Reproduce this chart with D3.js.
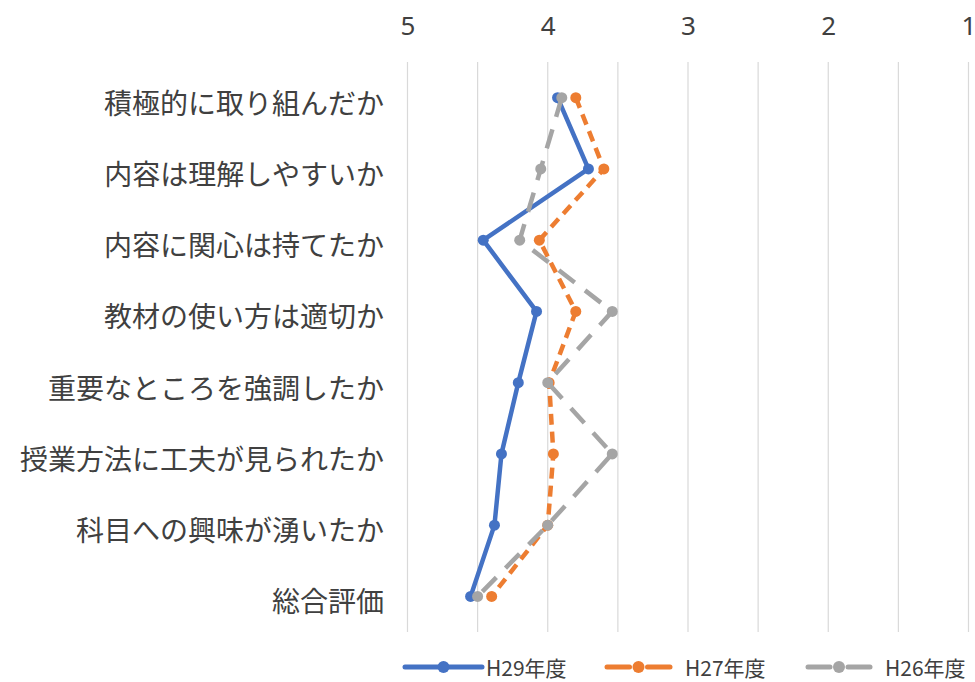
<!DOCTYPE html>
<html>
<head>
<meta charset="utf-8">
<script src="https://cdn.jsdelivr.net/npm/d3@7"></script>
<style>
  html, body { margin: 0; padding: 0; background: #fff; }
  svg { display: block; }
  text { font-family: "Noto Sans CJK JP", "Noto Sans", sans-serif; fill: #404040; }
</style>
</head>
<body>
<svg id="chart" width="975" height="682"></svg>
<script>
const categories = ["積極的に取り組んだか", "内容は理解しやすいか", "内容に関心は持てたか", "教材の使い方は適切か",
  "重要なところを強調したか", "授業方法に工夫が見られたか", "科目への興味が湧いたか", "総合評価"];
const seriesNames = ["H29年度", "H27年度", "H26年度"];
const h29 = [3.93, 3.71, 4.46, 4.08, 4.21, 4.33, 4.38, 4.55];
const h27 = [3.80, 3.60, 4.06, 3.80, 3.99, 3.96, 4.00, 4.40];
const h26 = [3.90, 4.05, 4.20, 3.54, 4.00, 3.54, 4.00, 4.50];
const tickLabels = [5, 4, 3, 2, 1];

const series = [
  { name: seriesNames[0], values: h29, color: "#4472C4", dash: null },
  { name: seriesNames[1], values: h27, color: "#ED7D31", dash: "11,7" },
  { name: seriesNames[2], values: h26, color: "#A5A5A5", dash: "20,13" }
];

const svg = d3.select("#chart");
const x = d3.scaleLinear().domain([5, 1]).range([407.5, 968.5]);
const yBand = d3.scaleBand().domain(categories).range([62, 632]);
const y = c => yBand(c) + yBand.bandwidth() / 2;

// gridlines every 0.5
svg.append("g").selectAll("line")
  .data(x.ticks(8))
  .join("line")
  .attr("x1", d => x(d)).attr("x2", d => x(d))
  .attr("y1", 62).attr("y2", 632)
  .attr("stroke", "#D9D9D9").attr("stroke-width", 1.2);

// top axis labels
const axis = d3.axisTop(x).tickValues(tickLabels).tickSize(0).tickFormat(d3.format("d"));
const gAxis = svg.append("g").attr("transform", "translate(0,38)").call(axis);
gAxis.select(".domain").remove();
gAxis.selectAll("text")
  .attr("font-size", 26)
  .attr("fill", "#404040")
  .style("font-family", "\"Noto Sans\", sans-serif");

// category labels
svg.append("g").selectAll("text")
  .data(categories)
  .join("text")
  .attr("x", 384)
  .attr("y", d => y(d) + 4)
  .attr("text-anchor", "end")
  .attr("dominant-baseline", "central")
  .attr("font-size", 28)
  .text(d => d);

// lines
const line = d3.line()
  .x(d => x(d.v))
  .y(d => y(d.c));

series.forEach(s => {
  const pts = s.values.map((v, i) => ({ v, c: categories[i] }));
  const g = svg.append("g");
  g.append("path")
    .datum(pts)
    .attr("d", line)
    .attr("fill", "none")
    .attr("stroke", s.color)
    .attr("stroke-width", 4.5)
    .attr("stroke-linejoin", "round")
    .attr("stroke-dasharray", s.dash);
  g.selectAll("circle")
    .data(pts)
    .join("circle")
    .attr("cx", d => x(d.v))
    .attr("cy", d => y(d.c))
    .attr("r", 5.5)
    .attr("fill", s.color);
});

// legend
const legendItems = [
  { s: series[0], x1: 405, x2: 482, tx: 486 },
  { s: series[1], x1: 607, x2: 670, tx: 685 },
  { s: series[2], x1: 808, x2: 870, tx: 885 }
];
const ly = 667;
const lg = svg.append("g");
legendItems.forEach(it => {
  const mid = (it.x1 + it.x2) / 2;
  if (it.s.dash) {
    lg.append("line").attr("x1", it.x1).attr("x2", mid - 9).attr("y1", ly).attr("y2", ly)
      .attr("stroke", it.s.color).attr("stroke-width", 5).attr("stroke-linecap", "round");
    lg.append("line").attr("x1", mid + 9).attr("x2", it.x2).attr("y1", ly).attr("y2", ly)
      .attr("stroke", it.s.color).attr("stroke-width", 5).attr("stroke-linecap", "round");
  } else {
    lg.append("line").attr("x1", it.x1).attr("x2", it.x2).attr("y1", ly).attr("y2", ly)
      .attr("stroke", it.s.color).attr("stroke-width", 5).attr("stroke-linecap", "round");
  }
  lg.append("circle").attr("cx", mid).attr("cy", ly).attr("r", 6).attr("fill", it.s.color);
  lg.append("text").attr("x", it.tx).attr("y", ly).attr("dominant-baseline", "central")
    .attr("font-size", 21).text(it.s.name);
});
</script>
</body>
</html>
